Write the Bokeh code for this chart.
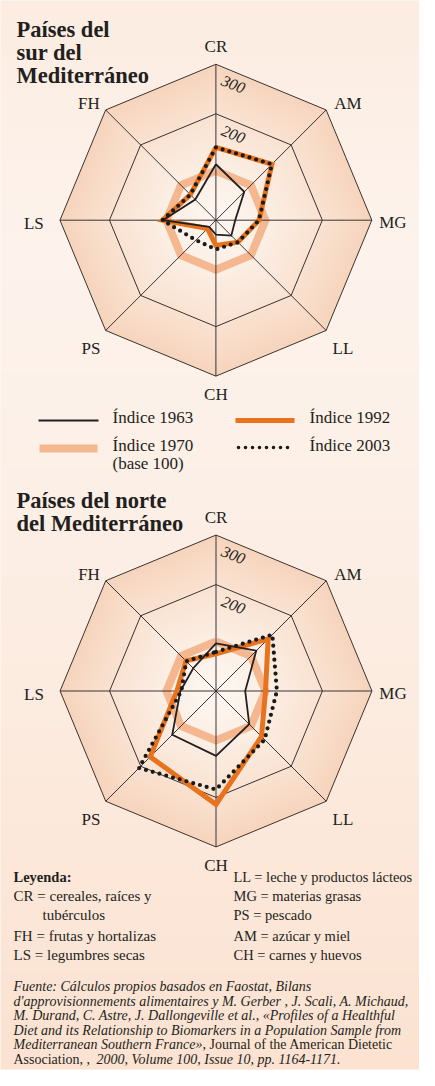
import numpy as np
from bokeh.plotting import figure
from bokeh.models import Range1d
from bokeh.core.properties import value
from bokeh.embed import file_html
from bokeh.resources import INLINE

# ---------------- data ----------------
categories = ["CR", "AM", "MG", "LL", "CH", "PS", "LS", "FH"]

south_1963 = [113, 81, 39, 44, 29, 19, 107, 59]
south_1970 = [100, 100, 100, 100, 100, 100, 100, 100]
south_1992 = [147, 160, 87, 63, 51, 24, 108, 73]
south_2003 = [147, 160, 87, 63, 59, 57, 108, 73]

north_1963 = [96, 115, 59, 95, 131, 125, 72, 65]
north_1970 = [100, 100, 100, 100, 100, 100, 100, 100]
north_1992 = [75, 149, 100, 130, 229, 188, 79, 86]
north_2003 = [79, 161, 123, 139, 199, 220, 70, 85]

ring_values = [215, 315]
ring_labels = ["200", "300"]

series_names = ["Índice 1963", "Índice 1992", "Índice 1970", "Índice 2003"]

legend_left = [("CR = cereales, raíces y", 0), ("tubérculos", 29),
               ("FH = frutas y hortalizas", 0), ("LS = legumbres secas", 0)]
legend_right = ["LL = leche y productos lácteos", "MG = materias grasas",
                "PS = pescado", "AM = azúcar y miel", "CH = carnes y huevos"]

source_lines = [
    [("Fuente: Cálculos propios basados en Faostat, Bilans", "italic", 0)],
    [("d'approvisionnements alimentaires y M. Gerber , J. Scali, A. Michaud,", "italic", 0)],
    [("M. Durand, C. Astre, J. Dallongeville et al., «Profiles of a Healthful", "italic", 0)],
    [("Diet and its Relationship to Biomarkers in a Population Sample from", "italic", 0)],
    [("Mediterranean Southern France»", "italic", 0), (", Journal of the American Dietetic", "normal", 189)],
    [("Association, , ", "normal", 0), ("2000, Volume 100, Issue 10, pp. 1164-1171.", "italic", 83)],
]

# ---------------- styling ----------------
W, H = 419, 1070
OFF = 8
K = 0.495                      # px per index point
FONT = value("Liberation Serif")
INK = "#231f20"
C1963 = "#231f20"
C1970 = "#f5b790"
C1992 = "#e8731e"
C2003 = "#1a1a1a"

p = figure(width=W, height=H, x_range=Range1d(0, W), y_range=Range1d(H, 0),
           output_backend="svg", toolbar_location=None, min_border=0,
           x_axis_type=None, y_axis_type=None)
p.grid.visible = False
p.outline_line_color = None
p.background_fill_color = "#fcefe6"
p.border_fill_color = "#fcefe6"


def mix(c0, c1, t):
    return "#%02x%02x%02x" % tuple(int(round(a + (b - a) * t)) for a, b in zip(c0, c1))


# panel background, vertical gradient
stops = [(0, (252, 236, 225)), (250, (253, 243, 236)), (500, (252, 239, 230)),
         (800, (252, 233, 220)), (H, (251, 226, 209))]
tops, bots, cols = [], [], []
step = 6
for y0 in range(0, H, step):
    yc = y0 + step / 2
    for (ya, ca), (yb, cb) in zip(stops[:-1], stops[1:]):
        if ya <= yc <= yb:
            cols.append(mix(ca, cb, (yc - ya) / (yb - ya)))
            break
    tops.append(y0)
    bots.append(min(y0 + step + 0.5, H))
p.quad(left=0, right=W, top=tops, bottom=bots, fill_color=cols, line_color=None)

ANG = np.deg2rad(90 - 45 * np.arange(8))


def poly(vals, cx, cy):
    r = np.asarray(vals, float) * K
    xs = cx + r * np.cos(ANG)
    ys = cy - r * np.sin(ANG)
    return list(xs) + [xs[0]], list(ys) + [ys[0]]


label_off = [(0, -174), (132, -117), (177, 2), (127, 128),
             (0, 174), (-125, 128), (-182, 3), (-127, -117)]


def radar(cx, cy, s63, s70, s92, s03):
    rmax = ring_values[-1]
    # radial gradient inside the octagon
    n = 40
    pxs, pys, pcs = [], [], []
    for i in range(n):
        t = 1 - i / n
        xs, ys = poly([rmax * t] * 8, cx, cy)
        pxs.append(xs)
        pys.append(ys)
        pcs.append(mix((253, 246, 240), (247, 213, 189), t ** 1.4))
    p.patches(pxs, pys, fill_color=pcs, line_color=None)
    # base 100 (1970)
    xs, ys = poly(s70, cx, cy)
    p.line(xs, ys, line_color=C1970, line_width=8, line_join="miter")
    # rings
    for rv in ring_values:
        xs, ys = poly([rv] * 8, cx, cy)
        p.line(xs, ys, line_color="#3a3232", line_width=1)
    # spokes
    ox = cx + rmax * K * np.cos(ANG)
    oy = cy - rmax * K * np.sin(ANG)
    p.segment(x0=[cx] * 8, y0=[cy] * 8, x1=list(ox), y1=list(oy),
              line_color="#3a3232", line_width=1)
    # series
    xs, ys = poly(s92, cx, cy)
    p.line(xs, ys, line_color=C1992, line_width=5, line_join="miter")
    xs, ys = poly(s63, cx, cy)
    p.line(xs, ys, line_color=C1963, line_width=1.8, line_join="miter")
    xs, ys = poly(s03, cx, cy)
    p.line(xs, ys, line_color=C2003, line_width=4.2, line_dash="0 7",
           line_cap="round", line_join="round")
    # category labels
    p.text(x=[cx + dx for dx, dy in label_off], y=[cy + dy for dx, dy in label_off],
           text=categories, text_font=FONT, text_font_size="17px", text_color=INK,
           text_align="center", text_baseline="middle")
    # ring labels
    p.text(x=[cx + 17.5, cx + 17.5], y=[cy - 86, cy - 136], text=ring_labels,
           text_font=FONT, text_font_style="italic", text_font_size="16px",
           text_color=INK, text_align="center", text_baseline="middle",
           angle=[-np.deg2rad(22.5)] * 2)


radar(223.4 - OFF, 227.7 - OFF, south_1963, south_1970, south_1992, south_2003)
radar(223.5 - OFF, 698.5 - OFF, north_1963, north_1970, north_1992, north_2003)

# titles
TX = 24 - OFF
p.text(x=[TX] * 3, y=[37 - OFF, 60 - OFF, 83 - OFF],
       text=["Países del", "sur del", "Mediterráneo"], text_font=FONT,
       text_font_style="bold", text_font_size="22.5px", text_color=INK,
       text_align="left", text_baseline="alphabetic")
p.text(x=[TX] * 2, y=[508 - OFF, 531 - OFF],
       text=["Países del norte", "del Mediterráneo"], text_font=FONT,
       text_font_style="bold", text_font_size="22.5px", text_color=INK,
       text_align="left", text_baseline="alphabetic")

# legend of series
p.segment(x0=[46 - OFF], y0=[428 - OFF], x1=[106 - OFF], y1=[428 - OFF],
          line_color=C1963, line_width=1.8)
p.segment(x0=[243 - OFF], y0=[428 - OFF], x1=[302 - OFF], y1=[428 - OFF],
          line_color=C1992, line_width=5)
p.segment(x0=[47 - OFF], y0=[456 - OFF], x1=[105 - OFF], y1=[456 - OFF],
          line_color=C1970, line_width=8)
p.segment(x0=[246 - OFF], y0=[455 - OFF], x1=[302 - OFF], y1=[455 - OFF],
          line_color=C2003, line_width=3.6, line_dash="0 7", line_cap="round")
p.text(x=[120 - OFF, 317 - OFF, 120 - OFF, 317 - OFF, 120 - OFF],
       y=[425 - OFF, 425 - OFF, 453 - OFF, 453 - OFF, 471 - OFF],
       text=[series_names[0], series_names[1], series_names[2], series_names[3], "(base 100)"],
       text_font=FONT, text_font_size="17px", text_color=INK,
       text_align="left", text_baseline="middle")

# bottom key
p.text(x=[21 - OFF], y=[884 - OFF], text=["Leyenda:"], text_font=FONT,
       text_font_style="bold", text_font_size="14.5px", text_color=INK,
       text_align="left", text_baseline="middle")
ly = [903, 922, 943, 962]
p.text(x=[21 - OFF + dx for _, dx in legend_left], y=[v - OFF for v in ly],
       text=[t for t, _ in legend_left], text_font=FONT, text_font_size="15px",
       text_color=INK, text_align="left", text_baseline="middle")
ry = [884, 903, 922, 943, 962]
p.text(x=[241 - OFF] * 5, y=[v - OFF for v in ry], text=legend_right, text_font=FONT,
       text_font_size="14.5px", text_color=INK, text_align="left", text_baseline="middle")

# source
sy0, sstep = 994, 14.6
for i, parts in enumerate(source_lines):
    for txt, style, dx in parts:
        p.text(x=[21 - OFF + dx], y=[sy0 + i * sstep - OFF], text=[txt], text_font=FONT,
               text_font_style=style, text_font_size="14px", text_color=INK,
               text_align="left", text_baseline="middle")

open("out.html", "w").write(file_html(p, INLINE))
